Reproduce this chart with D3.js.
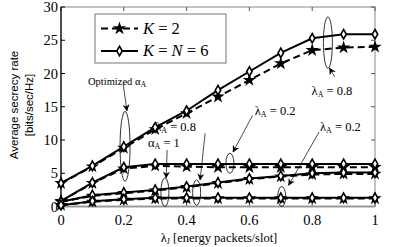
<!DOCTYPE html>
<html>
<head>
<meta charset="utf-8">
<script src="https://cdn.jsdelivr.net/npm/d3@7"></script>
<style>
  body { margin: 0; background: #fff; }
  svg { display: block; }
  .serif { font-family: "Liberation Serif", "DejaVu Serif", serif; }
</style>
</head>
<body>
<div id="chart"></div>
<script>
// ---- data ----
const lambdaJ = [0, 0.1, 0.2, 0.3, 0.4, 0.5, 0.6, 0.7, 0.8, 0.9, 1];

// K = N = 6 (solid, diamonds)
const optK6 = [3.5, 6.1, 9.0, 11.9, 14.4, 17.5, 20.3, 23.1, 25.3, 25.9, 25.9];
const a08K6 = [0.8, 3.6, 5.9, 6.4, 6.4, 6.4, 6.4, 6.4, 6.4, 6.4, 6.4];
const a02K6 = [0.7, 1.7, 2.1, 2.5, 3.0, 3.6, 4.2, 4.6, 5.0, 5.1, 5.1];
const lowK6 = [0.2, 0.8, 1.1, 1.3, 1.3, 1.3, 1.3, 1.3, 1.3, 1.3, 1.3];

// K = 2 (dashed, stars)
const optK2 = [3.5, 6.0, 8.8, 11.6, 14.0, 16.5, 19.0, 21.5, 23.5, 23.9, 24.0];
const a08K2 = [0.8, 3.5, 5.7, 6.1, 6.0, 5.9, 5.9, 5.9, 5.9, 5.9, 5.9];
const a02K2 = [0.7, 1.6, 2.0, 2.4, 2.9, 3.5, 4.1, 4.5, 4.8, 4.9, 4.9];
const lowK2 = [0.2, 0.7, 1.0, 1.2, 1.2, 1.2, 1.2, 1.2, 1.2, 1.2, 1.2];

const xTicks = [0, 0.2, 0.4, 0.6, 0.8, 1];
const yTicks = [0, 5, 10, 15, 20, 25, 30];

const width = 415, height = 247;
const margin = {top: 7, right: 40, bottom: 40.5, left: 61};

const svg = d3.select('#chart')
    .append('svg')
    .attr('width', width)
    .attr('height', height);

const x = d3.scaleLinear().domain([0, 1]).range([margin.left, width - margin.right]);
const y = d3.scaleLinear().domain([0, 30]).range([height - margin.bottom, margin.top]);

// ---- frame and ticks ----
const x0 = x(0), x1 = x(1), y0 = y(0), y1 = y(30);
svg.append('rect')
    .attr('x', x0).attr('y', y1)
    .attr('width', x1 - x0).attr('height', y0 - y1)
    .attr('fill', '#fff').attr('stroke', '#888').attr('stroke-width', 1);

xTicks.forEach(t => {
    svg.append('line').attr('x1', x(t)).attr('x2', x(t)).attr('y1', y0).attr('y2', y0 - 4).attr('stroke', '#555');
    svg.append('line').attr('x1', x(t)).attr('x2', x(t)).attr('y1', y1).attr('y2', y1 + 4).attr('stroke', '#555');
});
yTicks.forEach(t => {
    svg.append('line').attr('x1', x0).attr('x2', x0 + 4).attr('y1', y(t)).attr('y2', y(t)).attr('stroke', '#000');
    svg.append('line').attr('x1', x1).attr('x2', x1 - 4).attr('y1', y(t)).attr('y2', y(t)).attr('stroke', '#555');
});
svg.append('line').attr('x1', x0).attr('x2', x1).attr('y1', y0).attr('y2', y0)
    .attr('stroke', '#999').attr('stroke-width', 2);
svg.append('line').attr('x1', x0).attr('x2', x0).attr('y1', y0).attr('y2', y1)
    .attr('stroke', '#000').attr('stroke-width', 1.2);

svg.selectAll('.xlab')
    .data(xTicks)
    .enter()
    .append('text')
    .attr('class', 'serif')
    .attr('x', d => x(d))
    .attr('y', y0 + 18)
    .attr('text-anchor', 'middle')
    .attr('font-size', '14.5px')
    .text(d => d);

svg.selectAll('.ylab')
    .data(yTicks)
    .enter()
    .append('text')
    .attr('class', 'serif')
    .attr('x', x0 - 3)
    .attr('y', d => y(d) + 5)
    .attr('text-anchor', 'end')
    .attr('font-size', '14.5px')
    .text(d => d);

// axis titles
const xt = svg.append('text').attr('class', 'serif')
    .attr('x', 219).attr('y', 242)
    .attr('text-anchor', 'middle').attr('font-size', '12.5px');
xt.append('tspan').text('λ');
xt.append('tspan').attr('font-size', '8px').attr('dy', 2).text('J');
xt.append('tspan').attr('dy', -2).text(' [energy packets/slot]');

const yt = svg.append('g').attr('transform', 'translate(18,105) rotate(-90)');
yt.append('text').attr('text-anchor', 'middle')
    .attr('font-family', '"Liberation Sans", Arial, sans-serif').attr('font-size', '11.5px')
    .text('Average secrecy rate');
yt.append('text').attr('text-anchor', 'middle').attr('y', 15)
    .attr('font-family', '"Liberation Sans", Arial, sans-serif').attr('font-size', '11.5px')
    .text('[bits/sec/Hz]');

// ---- curves ----
const line = d3.line().x((d, i) => x(lambdaJ[i])).y(d => y(d));
const star = d3.symbol().type(d3.symbolStar).size(55);
const diamond = d3.symbol().type(d3.symbolDiamond).size(26);

const solidSeries = [optK6, a08K6, a02K6, lowK6];
const dashSeries = [optK2, a08K2, a02K2, lowK2];

dashSeries.forEach(s => {
    svg.append('path').attr('d', line(s))
        .attr('fill', 'none').attr('stroke', '#000').attr('stroke-width', 2)
        .attr('stroke-dasharray', '7,4');
});
solidSeries.forEach(s => {
    svg.append('path').attr('d', line(s))
        .attr('fill', 'none').attr('stroke', '#000').attr('stroke-width', 2);
});
dashSeries.forEach(s => {
    svg.append('g').selectAll('path')
        .data(s)
        .enter()
        .append('path')
        .attr('d', star)
        .attr('transform', (d, i) => `translate(${x(lambdaJ[i])},${y(d)})`)
        .attr('fill', '#000');
});
solidSeries.forEach(s => {
    svg.append('g').selectAll('path')
        .data(s)
        .enter()
        .append('path')
        .attr('d', diamond)
        .attr('transform', (d, i) => `translate(${x(lambdaJ[i])},${y(d)})`)
        .attr('fill', '#fff')
        .attr('stroke', '#000')
        .attr('stroke-width', 1.6);
});

// ---- annotations (ellipses in data units, arrows from label to ellipse) ----
const ellipses = [
    {cx: 0.204, y1: 3.8, y2: 14.3, rx: 5},
    {cx: 0.85, y1: 20.8, y2: 28.5, rx: 4.5},
    {cx: 0.538, y1: 5.0, y2: 8.0, rx: 4},
    {cx: 0.432, y1: 0.2, y2: 4.0, rx: 4},
    {cx: 0.331, y1: 0.0, y2: 4.3, rx: 4},
    {cx: 0.703, y1: 0.0, y2: 3.0, rx: 4}
];
svg.selectAll('.ell')
    .data(ellipses)
    .enter()
    .append('ellipse')
    .attr('cx', d => x(d.cx))
    .attr('cy', d => (y(d.y1) + y(d.y2)) / 2)
    .attr('rx', d => d.rx)
    .attr('ry', d => (y(d.y1) - y(d.y2)) / 2)
    .attr('fill', 'none')
    .attr('stroke', '#000')
    .attr('stroke-width', 0.8);

const arrows = [
    {from: [0.198, 18.4], to: [0.21, 14.4]},
    {from: [0.872, 19.5], to: [0.855, 20.8]},
    {from: [0.61, 13.7], to: [0.548, 8.2]},
    {from: [0.459, 11.0], to: [0.443, 4.0]},
    {from: [0.338, 8.5], to: [0.335, 4.3]},
    {from: [0.822, 11.2], to: [0.725, 3.2]}
];
svg.append('defs').append('marker')
    .attr('id', 'head')
    .attr('viewBox', '0 0 10 10')
    .attr('refX', 9).attr('refY', 5)
    .attr('markerWidth', 7).attr('markerHeight', 7)
    .attr('markerUnits', 'userSpaceOnUse')
    .attr('orient', 'auto')
    .append('path').attr('d', 'M0,0 L10,5 L0,10 L3,5 Z').attr('fill', '#000');
svg.selectAll('.arr')
    .data(arrows)
    .enter()
    .append('line')
    .attr('x1', d => x(d.from[0])).attr('y1', d => y(d.from[1]))
    .attr('x2', d => x(d.to[0])).attr('y2', d => y(d.to[1]))
    .attr('stroke', '#000').attr('stroke-width', 0.7)
    .attr('marker-end', 'url(#head)');

const labels = [
    {x: 0.086, y: 18.2, sym: 'Optimized α', sub: 'A', rest: ''},
    {x: 0.798, y: 16.8, sym: 'λ', sub: 'A', rest: ' = 0.8'},
    {x: 0.617, y: 13.8, sym: 'λ', sub: 'A', rest: ' = 0.2'},
    {x: 0.300, y: 11.4, sym: 'λ', sub: 'A', rest: ' = 0.8'},
    {x: 0.277, y: 8.9, sym: 'α', sub: 'A', rest: ' = 1'},
    {x: 0.825, y: 11.4, sym: 'λ', sub: 'A', rest: ' = 0.2'}
];
labels.forEach(l => {
    const t = svg.append('text').attr('class', 'serif')
        .attr('x', x(l.x)).attr('y', y(l.y))
        .attr('font-size', l.rest ? '12.5px' : '10.5px');
    t.append('tspan').text(l.sym);
    t.append('tspan').attr('font-size', '8px').attr('dy', 2).text(l.sub);
    if (l.rest) t.append('tspan').attr('dy', -2).text(l.rest);
});

// ---- legend ----
const legend = svg.append('g');
legend.append('rect')
    .attr('x', 95).attr('y', 14).attr('width', 131).attr('height', 49)
    .attr('fill', '#fff').attr('stroke', '#777').attr('stroke-width', 1);

const legendItems = [
    {dash: true, label: ['K', ' = 2']},
    {dash: false, label: ['K', ' = ', 'N', ' = 6']}
];
legendItems.forEach((it, i) => {
    const ly = 28.5 + i * 22.5;
    legend.append('line')
        .attr('x1', 101).attr('x2', 138).attr('y1', ly).attr('y2', ly)
        .attr('stroke', '#000').attr('stroke-width', 2)
        .attr('stroke-dasharray', it.dash ? '7,4' : null);
    legend.append('path')
        .attr('d', it.dash ? star() : diamond())
        .attr('transform', `translate(119.5,${ly})`)
        .attr('fill', it.dash ? '#000' : '#fff')
        .attr('stroke', it.dash ? null : '#000')
        .attr('stroke-width', 1.6);
    const t = legend.append('text').attr('class', 'serif')
        .attr('x', 143).attr('y', ly + 5).attr('font-size', '16.5px');
    it.label.forEach(p => {
        t.append('tspan')
            .attr('font-style', (p === 'K' || p === 'N') ? 'italic' : 'normal')
            .text(p);
    });
});
</script>
</body>
</html>
